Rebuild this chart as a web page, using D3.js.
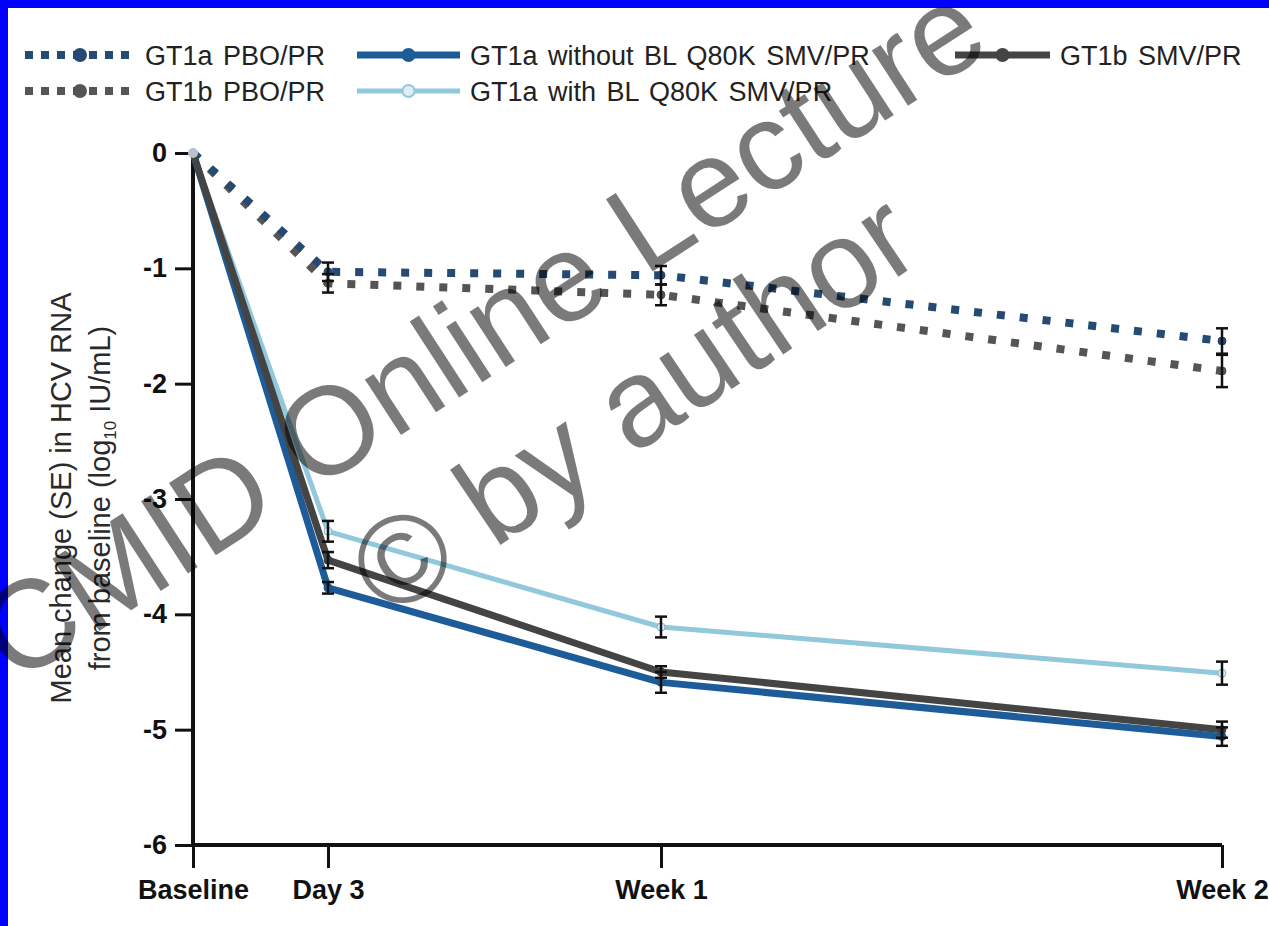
<!DOCTYPE html>
<html>
<head>
<meta charset="utf-8">
<script src="https://cdn.jsdelivr.net/npm/d3@7"></script>
<style>
  html, body { margin: 0; padding: 0; background: #fff; }
  svg { display: block; font-family: "Liberation Sans", Arial, sans-serif; }
</style>
</head>
<body>
<svg id="chart" width="1269" height="926"></svg>
<script>
// time points on the x axis (days since baseline)
const timeLabels = ['Baseline', 'Day 3', 'Week 1', 'Week 2'];
const timeDays = [0, 3, 7, 14];

const yTicks = [0, -1, -2, -3, -4, -5, -6];

const seriesNames = [
  'GT1a PBO/PR',
  'GT1b PBO/PR',
  'GT1a without BL Q80K SMV/PR',
  'GT1a with BL Q80K SMV/PR',
  'GT1b SMV/PR',
];

// mean change in log10 HCV RNA, and its SE
const gt1aPbo = [0, -1.03, -1.06, -1.63];
const gt1aPboSE = [0, 0.08, 0.08, 0.11];
const gt1bPbo = [0, -1.13, -1.23, -1.89];
const gt1bPboSE = [0, 0.08, 0.09, 0.14];
const gt1aNoQ80k = [0, -3.77, -4.59, -5.06];
const gt1aNoQ80kSE = [0, 0.05, 0.09, 0.08];
const gt1aQ80k = [0, -3.28, -4.11, -4.51];
const gt1aQ80kSE = [0, 0.09, 0.09, 0.10];
const gt1bSmv = [0, -3.53, -4.50, -5.00];
const gt1bSmvSE = [0, 0.07, 0.05, 0.07];

const W = 1269, H = 926;
const svg = d3.select('#chart');

// blue frame on top/left edges
svg.append('rect').attr('width', W).attr('height', H).attr('fill', '#0000fe');
svg.append('rect').attr('x', 8).attr('y', 8).attr('width', W).attr('height', H).attr('fill', '#fff');

// x axis is not linear in days: baseline->day 3 is squeezed
const x = d3.scaleLinear().domain(timeDays).range([193, 328, 661, 1222]);
const y = d3.scaleLinear().domain([0, -6]).range([153, 845]);

// style per series (same order as seriesNames)
const styles = [
  {color: '#264a72', width: 8, dash: '8,15', marker: '#264a72'},
  {color: '#555555', width: 8, dash: '8,15', marker: '#555555'},
  {color: '#1d5c98', width: 7, dash: null, marker: '#1d5c98'},
  {color: '#92c8dc', width: 5, dash: null, marker: '#dfeef4'},
  {color: '#444444', width: 7, dash: null, marker: '#444444'},
];
const values = [gt1aPbo, gt1bPbo, gt1aNoQ80k, gt1aQ80k, gt1bSmv];
const errors = [gt1aPboSE, gt1bPboSE, gt1aNoQ80kSE, gt1aQ80kSE, gt1bSmvSE];

const series = seriesNames.map((name, i) => ({
  name: name,
  style: styles[i],
  points: timeDays.map((d, j) => ({day: d, value: values[i][j], se: errors[i][j]})),
}));

// axes
const yAxis = d3.axisLeft(y)
  .tickValues(yTicks)
  .tickSize(18)
  .tickSizeOuter(0)
  .tickPadding(8)
  .tickFormat((d) => d === 0 ? '0' : '-' + Math.abs(d));

const gy = svg.append('g').attr('transform', `translate(${x(0)},0)`).call(yAxis);
gy.select('.domain').remove();
gy.selectAll('.tick line').attr('stroke', '#111').attr('stroke-width', 3);
gy.selectAll('.tick text')
  .attr('fill', '#111')
  .style('font-size', '27px')
  .style('font-weight', 'bold');

const xAxis = d3.axisBottom(x)
  .tickValues(timeDays)
  .tickSize(23)
  .tickSizeOuter(0)
  .tickPadding(12)
  .tickFormat((d, i) => timeLabels[i]);

const gx = svg.append('g').attr('transform', `translate(0,${y(-6)})`).call(xAxis);
gx.select('.domain').remove();
gx.selectAll('.tick line').attr('stroke', '#111').attr('stroke-width', 3);
gx.selectAll('.tick text')
  .attr('fill', '#111')
  .style('font-size', '27px')
  .style('font-weight', 'bold');

// axis spines
svg.append('line')
  .attr('x1', x(0)).attr('x2', x(0))
  .attr('y1', y(0)).attr('y2', y(-6))
  .attr('stroke', '#111').attr('stroke-width', 4);
svg.append('line')
  .attr('x1', x(0)).attr('x2', x(14))
  .attr('y1', y(-6)).attr('y2', y(-6))
  .attr('stroke', '#111').attr('stroke-width', 4);

// y axis title
const yTitle = svg.append('g')
  .attr('fill', '#2a2a2a')
  .style('font-size', '29px');
yTitle.append('text')
  .attr('transform', 'translate(71,498) rotate(-90)')
  .attr('text-anchor', 'middle')
  .text('Mean change (SE) in HCV RNA');
const t2 = yTitle.append('text')
  .attr('transform', 'translate(110,498) rotate(-90)')
  .attr('text-anchor', 'middle');
t2.append('tspan').text('from baseline (log');
t2.append('tspan').attr('dy', 6).style('font-size', '17px').text('10');
t2.append('tspan').attr('dy', -6).text(' IU/mL)');

// lines
const line = d3.line()
  .x((d) => x(d.day))
  .y((d) => y(d.value));

const drawOrder = [1, 0, 3, 2, 4];
drawOrder.forEach((i) => {
  const s = series[i];
  svg.append('path')
    .datum(s.points)
    .attr('fill', 'none')
    .attr('stroke', s.style.color)
    .attr('stroke-width', s.style.width)
    .attr('stroke-dasharray', s.style.dash)
    .attr('stroke-linejoin', 'round')
    .attr('d', line);

  svg.append('g')
    .selectAll('circle')
    .data(s.points)
    .join('circle')
      .attr('cx', (d) => x(d.day))
      .attr('cy', (d) => y(d.value))
      .attr('r', 4)
      .attr('fill', s.style.marker)
      .attr('stroke', d3.color(s.style.color).darker(0.3))
      .attr('stroke-width', 1);
});

// baseline marker shared by all groups
svg.append('circle')
  .attr('cx', x(0)).attr('cy', y(0)).attr('r', 5)
  .attr('fill', '#b9c3cf');

// error bars (SE)
const errs = series.flatMap((s) => s.points.filter((p) => p.se > 0));
const eb = svg.append('g').attr('stroke', '#111').attr('stroke-width', 2.5);
eb.selectAll('line.v')
  .data(errs)
  .join('line')
    .attr('class', 'v')
    .attr('x1', (d) => x(d.day)).attr('x2', (d) => x(d.day))
    .attr('y1', (d) => y(d.value + d.se)).attr('y2', (d) => y(d.value - d.se));
eb.selectAll('line.top')
  .data(errs)
  .join('line')
    .attr('class', 'top')
    .attr('x1', (d) => x(d.day) - 6).attr('x2', (d) => x(d.day) + 6)
    .attr('y1', (d) => y(d.value + d.se)).attr('y2', (d) => y(d.value + d.se));
eb.selectAll('line.bot')
  .data(errs)
  .join('line')
    .attr('class', 'bot')
    .attr('x1', (d) => x(d.day) - 6).attr('x2', (d) => x(d.day) + 6)
    .attr('y1', (d) => y(d.value - d.se)).attr('y2', (d) => y(d.value - d.se));

// legend
const legendSlots = [
  {x: 25, y: 55, len: 110},
  {x: 25, y: 91, len: 110},
  {x: 357, y: 55, len: 103},
  {x: 357, y: 91, len: 103},
  {x: 955, y: 55, len: 95},
];
const legend = svg.append('g')
  .selectAll('g')
  .data(series)
  .join('g')
    .attr('transform', (d, i) => `translate(${legendSlots[i].x},${legendSlots[i].y})`);

legend.append('line')
  .attr('x1', 0)
  .attr('x2', (d, i) => legendSlots[i].len)
  .attr('stroke', (d) => d.style.color)
  .attr('stroke-width', (d) => d.style.width)
  .attr('stroke-dasharray', (d) => d.style.dash ? '8,8' : null);
legend.append('circle')
  .attr('cx', (d, i) => legendSlots[i].len / 2)
  .attr('r', 6)
  .attr('fill', (d) => d.style.marker)
  .attr('stroke', (d) => d.style.color)
  .attr('stroke-width', 2);
legend.append('text')
  .attr('x', (d, i) => legendSlots[i].len + 10)
  .attr('dy', '0.36em')
  .attr('fill', '#222')
  .style('font-size', '27px')
  .style('word-spacing', '3px')
  .text((d) => d.name);

// watermark
const wm = svg.append('g')
  .attr('fill', '#000')
  .attr('fill-opacity', 0.52)
  .style('font-size', '125px');
wm.append('text')
  .attr('transform', 'translate(480,330) rotate(-33)')
  .attr('text-anchor', 'middle')
  .attr('dy', '0.36em')
  .text('CMID Online Lecture');
wm.append('text')
  .attr('transform', 'translate(632,402) rotate(-34)')
  .attr('text-anchor', 'middle')
  .attr('dy', '0.36em')
  .text('© by author');
</script>
</body>
</html>
